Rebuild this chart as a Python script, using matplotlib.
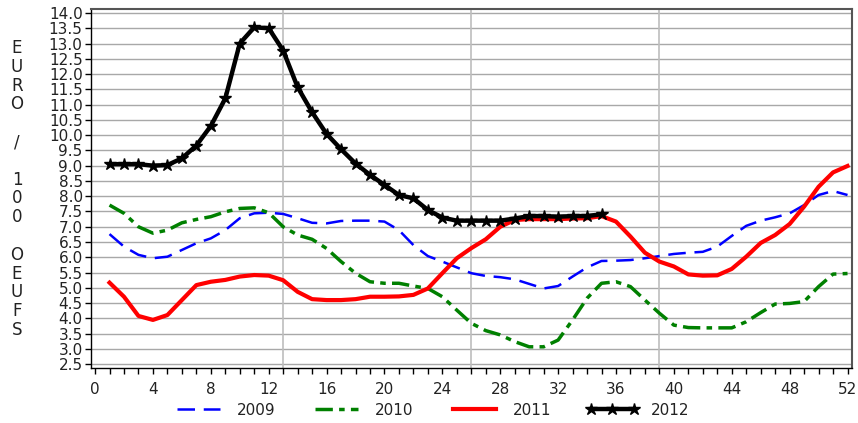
import matplotlib
matplotlib.use("Agg")
import matplotlib.pyplot as plt
from matplotlib.ticker import MultipleLocator, FixedLocator

# weekly price, euro per 100 eggs
weeks_2009 = list(range(1, 53))
eggs_2009 = [6.76, 6.35, 6.08, 5.97, 6.02, 6.24, 6.46, 6.62, 6.89, 7.28,
             7.44, 7.46, 7.42, 7.28, 7.13, 7.11, 7.19, 7.20, 7.20, 7.17,
             6.89, 6.40, 6.04, 5.86, 5.67, 5.48, 5.39, 5.35, 5.28, 5.13,
             4.98, 5.06, 5.37, 5.67, 5.88, 5.89, 5.91, 5.97, 6.04, 6.11,
             6.15, 6.18, 6.35, 6.70, 7.03, 7.20, 7.31, 7.44, 7.71, 8.04,
             8.17, 8.04]

weeks_2010 = list(range(1, 53))
eggs_2010 = [7.71, 7.44, 7.00, 6.79, 6.89, 7.13, 7.24, 7.33, 7.49, 7.60,
             7.62, 7.46, 7.00, 6.73, 6.59, 6.29, 5.86, 5.48, 5.20, 5.15,
             5.15, 5.06, 4.98, 4.71, 4.27, 3.84, 3.60, 3.46, 3.24, 3.07,
             3.07, 3.29, 3.95, 4.66, 5.15, 5.20, 5.04, 4.60, 4.17, 3.78,
             3.70, 3.69, 3.69, 3.69, 3.89, 4.19, 4.47, 4.49, 4.55, 5.04,
             5.45, 5.47]

weeks_2011 = list(range(1, 53))
eggs_2011 = [5.17, 4.71, 4.08, 3.95, 4.11, 4.60, 5.09, 5.20, 5.26, 5.37,
             5.42, 5.40, 5.25, 4.87, 4.63, 4.60, 4.60, 4.63, 4.71, 4.71,
             4.72, 4.77, 4.98, 5.48, 5.97, 6.30, 6.59, 7.00, 7.22, 7.25,
             7.25, 7.25, 7.27, 7.28, 7.35, 7.17, 6.68, 6.15, 5.86, 5.70,
             5.44, 5.40, 5.41, 5.62, 6.02, 6.47, 6.73, 7.09, 7.66, 8.31,
             8.78, 8.99]

weeks_2012 = list(range(1, 36))
eggs_2012 = [9.05, 9.05, 9.05, 9.00, 9.02, 9.24, 9.66, 10.30, 11.20, 13.00,
             13.53, 13.50, 12.77, 11.57, 10.75, 10.04, 9.54, 9.07, 8.70, 8.37,
             8.04, 7.93, 7.55, 7.30, 7.20, 7.20, 7.20, 7.20, 7.27, 7.35,
             7.35, 7.33, 7.35, 7.35, 7.41]

ylabel_text = "EURO / 100 OEUFS"

plt.rcParams["font.family"] = ["DejaVu Sans"]
txt = "#222222"

fig = plt.figure(figsize=(8.58, 4.23), dpi=100)
ax = fig.add_axes([91 / 858, 1 - 368 / 423, 761 / 858, 359 / 423])

ax.plot(weeks_2009, eggs_2009, color="#0000ff", lw=1.8, dashes=(7, 3.5), label="2009")
ax.plot(weeks_2010, eggs_2010, color="#008000", lw=2.5, dashes=(5, 1.8, 1.6, 1.8), label="2010")
ax.plot(weeks_2011, eggs_2011, color="#ff0000", lw=3.0, label="2011")
ax.plot(weeks_2012, eggs_2012, color="black", lw=3.2, marker="*", ms=9, label="2012")

ax.set_xlim(-0.28, 52.31)
ax.set_ylim(2.376, 14.13)

ax.xaxis.set_major_locator(MultipleLocator(4))
ax.xaxis.set_minor_locator(MultipleLocator(1))
ax.yaxis.set_major_locator(MultipleLocator(0.5))
ax.yaxis.set_major_formatter(matplotlib.ticker.FormatStrFormatter("%.1f"))

# grid: every half euro, and a vertical line each quarter of the year
for v in [x * 0.5 for x in range(5, 29)]:
    ax.axhline(v, color="#a8a8a8", lw=1.0, zorder=0)
for w in [13, 26, 39]:
    ax.axvline(w, color="#bdbdbd", lw=1.2, zorder=0)

ax.tick_params(axis="both", which="both", direction="out", length=4, width=1,
               colors="black", labelcolor=txt, labelsize=11)
ax.tick_params(axis="x", pad=6)
ax.tick_params(axis="y", pad=2)

for side in ["top", "right"]:
    ax.spines[side].set_color("#555555")
    ax.spines[side].set_linewidth(1.5)
for side in ["left", "bottom"]:
    ax.spines[side].set_color("black")
    ax.spines[side].set_linewidth(1.0)

# vertical stacked y label, one letter per line
y0 = 48
for ch in ylabel_text:
    if ch != " ":
        fig.text(17 / 858, 1 - y0 / 423, ch, ha="center", va="center",
                 fontsize=12, color=txt)
    y0 += 18.8

fig.legend(loc="center", bbox_to_anchor=(431 / 858, 1 - 410 / 423), ncol=4,
           frameon=False, fontsize=11, handlelength=3.4, handletextpad=0.8,
           columnspacing=2.3, numpoints=3, labelcolor=txt)

fig.savefig("out.png", dpi=100)
